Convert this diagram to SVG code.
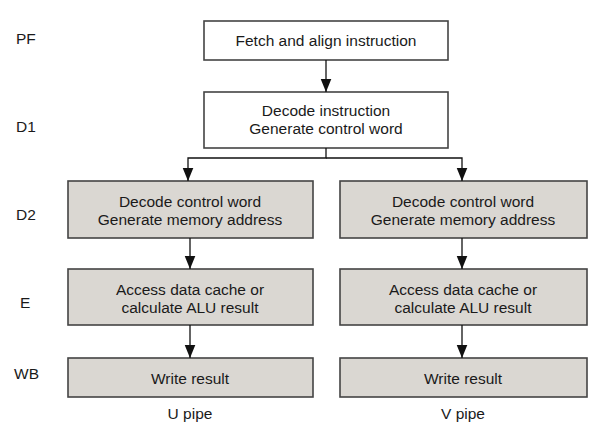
<svg xmlns="http://www.w3.org/2000/svg" width="604" height="436" viewBox="0 0 604 436">
<defs>
<marker id="ah" markerWidth="13" markerHeight="16" refX="16" refY="6.5" orient="auto" markerUnits="userSpaceOnUse" viewBox="0 0 16 13">
<path d="M0,0 L16,6.5 L0,13 Z" fill="#111"/>
</marker>
<style>
text{font-family:"Liberation Sans",Arial,sans-serif;font-size:15.5px;fill:#1a1a1a}
.c{text-anchor:middle}
.w{fill:#fff;stroke:#444;stroke-width:1.6}
.g{fill:#dad7d2;stroke:#444;stroke-width:1.6}
.ln{fill:none;stroke:#111;stroke-width:1.3}
</style>
</defs>
<rect width="604" height="436" fill="#fff"/>
<g id="stage-labels">
<text x="16" y="44">PF</text>
<text x="16" y="132">D1</text>
<text x="16" y="220">D2</text>
<text x="20" y="308">E</text>
<text x="14" y="379">WB</text>
</g>
<g id="pf">
<rect class="w" x="204" y="21" width="244" height="39"/>
<text class="c" x="326" y="46">Fetch and align instruction</text>
</g>
<g id="d1">
<rect class="w" x="204" y="92" width="244" height="56"/>
<text class="c" x="326" y="116">Decode instruction</text>
<text class="c" x="326" y="134">Generate control word</text>
</g>
<g id="u-d2">
<rect class="g" x="68" y="181" width="245" height="57"/>
<text class="c" x="190" y="207">Decode control word</text>
<text class="c" x="190" y="225">Generate memory address</text>
</g>
<g id="v-d2">
<rect class="g" x="340" y="181" width="247" height="57"/>
<text class="c" x="463" y="207">Decode control word</text>
<text class="c" x="463" y="225">Generate memory address</text>
</g>
<g id="u-e">
<rect class="g" x="68" y="269" width="245" height="56"/>
<text class="c" x="190" y="295">Access data cache or</text>
<text class="c" x="190" y="313">calculate ALU result</text>
</g>
<g id="v-e">
<rect class="g" x="340" y="269" width="247" height="56"/>
<text class="c" x="463" y="295">Access data cache or</text>
<text class="c" x="463" y="313">calculate ALU result</text>
</g>
<g id="u-wb">
<rect class="g" x="68" y="358" width="245" height="39"/>
<text class="c" x="190" y="384">Write result</text>
</g>
<g id="v-wb">
<rect class="g" x="340" y="358" width="247" height="39"/>
<text class="c" x="463" y="384">Write result</text>
</g>
<g id="pipe-labels">
<text class="c" x="190" y="419">U pipe</text>
<text class="c" x="463" y="419">V pipe</text>
</g>
<g id="connectors">
<line class="ln" x1="326" y1="60" x2="326" y2="92" marker-end="url(#ah)"/>
<polyline class="ln" points="326,148 326,158 188,158 188,181" marker-end="url(#ah)"/>
<polyline class="ln" points="326,158 462,158 462,181" marker-end="url(#ah)"/>
<line class="ln" x1="190" y1="238" x2="190" y2="269" marker-end="url(#ah)"/>
<line class="ln" x1="462" y1="238" x2="462" y2="269" marker-end="url(#ah)"/>
<line class="ln" x1="190" y1="325" x2="190" y2="358" marker-end="url(#ah)"/>
<line class="ln" x1="462" y1="325" x2="462" y2="358" marker-end="url(#ah)"/>
</g>
</svg>
